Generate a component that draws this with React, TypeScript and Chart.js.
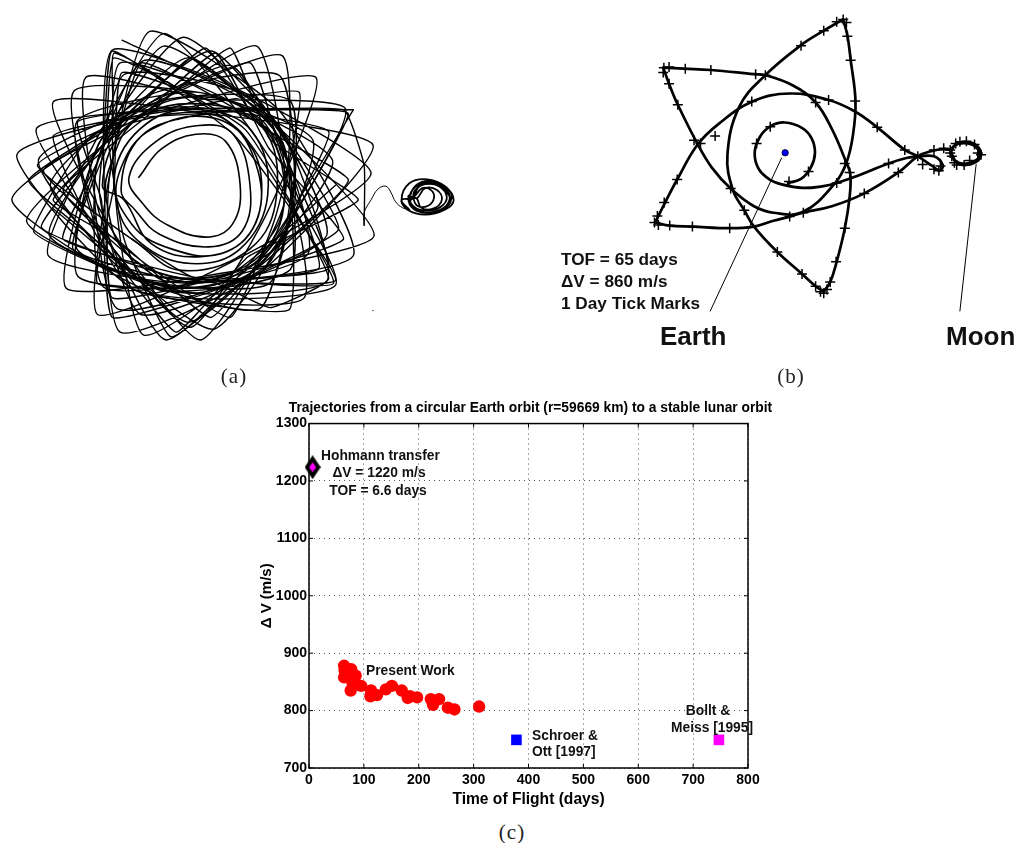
import React, { useEffect, useRef } from "react";
import { Chart, registerables } from "chart.js";

Chart.register(...registerables);

type P = [number, number];

// ---------- panel (a): values, axes 0..500 / 0..390
const aRings: P[] = [
  [137, 177], [160, 148], [195, 133], [225, 140], [240, 185], [232, 225], [205, 238], [165, 225], [142, 205],
  [127, 177], [155, 140], [198, 124], [232, 132], [250, 185], [242, 232], [208, 248], [158, 235], [133, 210],
  [119, 190], [135, 140], [175, 118], [225, 118], [258, 170], [255, 225], [220, 255], [170, 250], [130, 225],
  [112, 175], [145, 122], [200, 108], [252, 130], [268, 195], [240, 250], [190, 265], [140, 245], [115, 205],
  [122, 160], [150, 128], [205, 115], [246, 138], [262, 190], [245, 240], [200, 258], [150, 245], [122, 200],
  [100, 185], [125, 125], [190, 95], [255, 115], [285, 185], [262, 255], [190, 280], [125, 255], [104, 200],
  [108, 165], [135, 118], [200, 102], [262, 125], [277, 195], [250, 250], [180, 272], [130, 240],
];
const aStarEarly: P[] = [
  [120, 37], [254, 104], [376, 237], [208, 277], [63, 290], [96, 144], [182, 34], [283, 130], [328, 283],
  [168, 293], [23, 222], [133, 119], [257, 43], [285, 202], [200, 343], [111, 233], [50, 100], [200, 111],
  [375, 144], [258, 276], [118, 335], [102, 188], [110, 47], [239, 88], [373, 173], [232, 263], [95, 317],
  [108, 171], [148, 28], [279, 108], [355, 257], [190, 285], [45, 257], [94, 138], [163, 30], [258, 139],
  [337, 287], [157, 297], [8, 200], [142, 107], [283, 53], [280, 222], [165, 343], [97, 214], [83, 75],
  [203, 97], [347, 107], [268, 252], [142, 338], [113, 194], [118, 60], [266, 123], [305, 300], [133, 292],
  [13, 154], [166, 107], [317, 75], [266, 216], [190, 330], [107, 245], [33, 127], [184, 107], [355, 108],
];
const aStarMiddle: P[] = [
  [337, 185], [229, 276], [101, 289], [95, 160], [162, 43], [273, 125], [309, 255], [178, 290], [46, 236],
  [120, 121], [231, 63], [292, 176], [260, 311], [124, 275], [35, 159], [164, 98], [291, 99], [287, 231],
  [187, 325], [96, 227], [71, 89], [212, 93], [334, 160], [250, 275], [115, 311], [92, 177], [141, 58],
  [265, 107], [328, 236], [197, 295], [74, 250], [109, 131], [211, 48], [294, 156], [270, 285], [143, 281],
  [47, 185], [145, 94], [280, 73], [294, 214], [213, 332], [101, 245], [74, 120], [195, 90], [314, 139],
  [268, 266], [139, 317], [97, 193], [122, 72], [250, 95], [319, 208], [214, 287], [75, 278], [96, 143],
  [187, 55], [283, 141], [291, 271], [158, 292], [50, 209],
];
const aStarLate: P[] = [
  [355, 108], [254, 266], [110, 300], [107, 178], [140, 60], [283, 141], [290, 312], [127, 289], [50, 135],
  [174, 108], [300, 90], [276, 217], [230, 320], [129, 254], [40, 170], [139, 115], [215, 50], [269, 147],
  [345, 240], [196, 285], [70, 250], [120, 118], [250, 60], [281, 151], [320, 270], [161, 282], [60, 190],
  [146, 114], [230, 45], [270, 138], [360, 200], [248, 258], [175, 335], [106, 252], [25, 180], [126, 112],
  [205, 45], [260, 124], [350, 180], [242, 281], [110, 320], [99, 200], [75, 120], [187, 105], [330, 130],
  [278, 237], [210, 320], [118, 243], [50, 200], [118, 127], [190, 55], [277, 122], [340, 230], [224, 288],
  [95, 285], [112, 185], [120, 70], [269, 128], [330, 270], [180, 280], [38, 228], [110, 130], [112, 50],
  [240, 130], [335, 285], [200, 280], [60, 240], [100, 150], [110, 48], [235, 135], [337, 282], [190, 278],
  [34, 165], [125, 118], [280, 108], [350, 112], [270, 255], [170, 340], [122, 240], [105, 130], [112, 55],
  [245, 128], [330, 280], [270, 310], [215, 285], [110, 272], [30, 232], [88, 135], [170, 112], [345, 108],
  [366, 165], [366, 226],
];
const aExit: P[] = [
  [366, 226], [366, 213], [373, 200], [380, 189], [388, 186], [393, 192], [398, 202], [405, 208], [412, 210],
];
const aMoonLoops: P[] = [
  [412, 210], [404, 200], [412, 183], [430, 179], [448, 186], [457, 200], [448, 210], [428, 215], [410, 210],
  [404, 200], [415, 198], [422, 186], [436, 183], [450, 190], [452, 202], [440, 212], [422, 212], [413, 205],
  [415, 198], [420, 198], [428, 188], [440, 190], [445, 200], [436, 209], [424, 208], [419, 198], [412, 200],
  [420, 184], [440, 182], [455, 195], [447, 208], [428, 213], [414, 207], [411, 196], [416, 197], [425, 188],
  [434, 190], [437, 198], [431, 206], [420, 206], [416, 197], [418, 190], [428, 184], [442, 186], [450, 197],
  [444, 207], [430, 211], [418, 208], [412, 198], [418, 187], [432, 181], [446, 188], [454, 202], [440, 213],
];
const aSpeck: P[] = [[375, 313]];

// ---------- panel (b): values, axes 0..1431 / 0..1170
const bInnerOrbit: P[] = [
  [745, 548], [785, 535], [815, 500], [828, 455], [818, 410], [790, 378], [735, 360], [690, 372], [658, 405],
  [642, 455], [655, 505], [690, 538], [725, 552], [790, 563], [850, 558], [895, 548], [960, 525], [1055, 487],
  [1110, 470], [1145, 465],
];
const bLowerArc: P[] = [
  [335, 670], [380, 680], [450, 683], [565, 688], [640, 683], [700, 665], [750, 652], [790, 640], [880, 620],
  [980, 580], [1085, 515], [1145, 465], [1190, 448], [1225, 443], [1250, 445],
];
const bMiddleArc: P[] = [
  [335, 670], [365, 610], [403, 537], [465, 430], [530, 365], [635, 295], [750, 270], [870, 290], [950, 325],
  [1020, 375], [1105, 445], [1145, 465], [1190, 495], [1212, 510], [1222, 492], [1195, 465], [1145, 465],
];
const bStarOne: P[] = [
  [915, 40], [928, 90], [938, 165], [953, 295], [945, 400], [925, 485], [890, 548], [790, 638], [700, 640],
  [640, 620], [568, 565], [510, 500], [465, 425], [405, 305], [378, 240], [360, 190],
];
const bStarTwo: P[] = [
  [360, 190], [425, 193], [507, 197], [640, 210], [675, 213], [760, 245], [830, 298], [880, 380], [925, 485],
  [937, 520], [935, 590], [920, 688], [895, 792], [875, 855], [855, 885],
];
const bStarThree: P[] = [
  [855, 885], [830, 868], [788, 830], [712, 762], [640, 683], [610, 632], [575, 570], [558, 460], [595, 310],
  [675, 213], [785, 120], [855, 75], [915, 40],
];
const bMoonOrbit: P[] = [
  [1250, 445], [1262, 428], [1290, 420], [1325, 430], [1340, 460], [1325, 482], [1290, 492], [1265, 485], [1248, 455],
  [1258, 432], [1290, 424], [1322, 434], [1336, 460], [1320, 480], [1288, 488], [1262, 480], [1250, 458],
];
const bEarthLeader: P[] = [[725, 470], [505, 945]];
const bMoonLeader: P[] = [[1325, 490], [1275, 945]];
const bEarth: P[] = [[736, 454]];
const bDayTicks: P[] = [
  [915, 40], [895, 47], [925, 50], [855, 75], [928, 92], [785, 122], [938, 167], [675, 213], [645, 210], [507, 197],
  [428, 193], [378, 188], [362, 190], [360, 205], [378, 240], [405, 305], [633, 295], [830, 298], [870, 290], [952, 293],
  [690, 373], [1020, 375], [520, 402], [455, 415], [475, 425], [648, 425], [1105, 445], [920, 487], [935, 515], [808, 512],
  [403, 537], [748, 543], [895, 548], [1055, 487], [1145, 465], [1085, 515], [980, 580], [568, 565], [363, 608], [342, 650],
  [333, 670], [345, 678], [380, 680], [450, 683], [565, 688], [610, 632], [750, 652], [792, 640], [920, 688], [712, 762],
  [893, 792], [788, 830], [875, 855], [830, 868], [845, 885], [855, 890], [865, 878], [1160, 490], [1195, 505], [1215, 495],
  [1210, 510], [1195, 445], [1225, 440], [1245, 445], [1245, 455], [1262, 425], [1275, 420], [1295, 418], [1320, 428],
  [1340, 460], [1330, 455], [1250, 465], [1258, 485], [1265, 492], [1288, 492], [1305, 478],
];

// ---------- panel (c)
const xTickStep = 100;
const yTickStep = 100;
const presentWork: P[] = [
  [64, 878], [64, 858], [77, 872], [85, 861], [74, 856], [80, 846], [76, 835], [95, 843], [65, 870], [69, 864], [83, 850],
  [113, 835], [112, 825], [124, 827], [140, 837], [151, 843], [169, 835], [180, 822], [184, 825], [197, 823],
  [222, 820], [237, 820], [226, 810], [253, 805], [265, 802], [310, 807],
];
const schroerOtt: P[] = [[378, 749]];
const bolltMeiss: P[] = [[747, 749]];
const hohmann: P[] = [[6.6, 1224]];

const toXY = (pts: P[]) => pts.map(([x, y]) => ({ x, y }));

const strand = (pts: P[], width: number, tension = 0.4) => ({
  data: toXY(pts),
  showLine: true,
  borderColor: "#000",
  backgroundColor: "#000",
  borderWidth: width,
  pointRadius: 0,
  tension,
  borderJoinStyle: "round",
  borderCapStyle: "round",
  clip: false,
});

function useChart(build: () => any) {
  const ref = useRef<HTMLCanvasElement>(null);
  useEffect(() => {
    const chart = new Chart(ref.current as HTMLCanvasElement, build());
    return () => chart.destroy();
  }, []);
  return ref;
}

const hiddenAxes = (xMax: number, yMax: number) => ({
  x: { type: "linear", display: false, min: 0, max: xMax },
  y: { type: "linear", display: false, min: 0, max: yMax, reverse: true },
});

const baseOptions = {
  responsive: false,
  animation: false,
  events: [],
  layout: { padding: 0 },
  plugins: { legend: { display: false }, tooltip: { enabled: false }, title: { display: false } },
};

function PanelA() {
  const ref = useChart(() => ({
    type: "scatter",
    data: {
      datasets: [
        strand(aRings, 1.6),
        strand(aStarEarly, 1.4, 0.18),
        strand(aStarMiddle, 1.4, 0.18),
        strand(aStarLate, 1.4, 0.12),
        strand(aExit, 1),
        strand(aMoonLoops, 1.8),
        { data: toXY(aSpeck), pointRadius: 0.7, backgroundColor: "#000", borderWidth: 0 },
      ],
    },
    options: { ...baseOptions, scales: hiddenAxes(500, 390) },
  }));
  return <canvas ref={ref} width={500} height={390} style={{ position: "absolute", left: 0, top: 0 }} />;
}

function PanelB() {
  const ref = useChart(() => ({
    type: "scatter",
    data: {
      datasets: [
        {
          data: toXY(bEarth),
          pointStyle: "circle",
          pointRadius: 3.2,
          backgroundColor: "#0000ff",
          borderColor: "#000",
          borderWidth: 0.8,
        },
        {
          data: toXY(bDayTicks),
          pointStyle: "cross",
          pointRadius: 5,
          borderColor: "#000",
          borderWidth: 1.5,
          clip: false,
        },
        strand(bInnerOrbit, 2.7),
        strand(bLowerArc, 2.7),
        strand(bMiddleArc, 2.7),
        strand(bStarOne, 2.7),
        strand(bStarTwo, 2.7),
        strand(bStarThree, 2.7),
        strand(bMoonOrbit, 2.7),
        { ...strand(bEarthLeader, 1), tension: 0 },
        { ...strand(bMoonLeader, 1), tension: 0 },
      ],
    },
    options: { ...baseOptions, scales: hiddenAxes(1431, 1170) },
  }));
  return <canvas ref={ref} width={477} height={390} style={{ position: "absolute", left: 540, top: 0 }} />;
}

const framePlugin = {
  id: "matlabFrame",
  beforeDatasetsDraw(chart: any) {
    const { ctx, chartArea: a, scales } = chart;
    ctx.save();
    ctx.strokeStyle = "#000";
    ctx.lineWidth = 1;
    ctx.beginPath();
    scales.x.ticks.forEach((_: any, i: number) => {
      const px = scales.x.getPixelForTick(i);
      ctx.moveTo(px, a.bottom);
      ctx.lineTo(px, a.bottom - 4);
      ctx.moveTo(px, a.top);
      ctx.lineTo(px, a.top + 4);
    });
    scales.y.ticks.forEach((_: any, i: number) => {
      const py = scales.y.getPixelForTick(i);
      ctx.moveTo(a.left, py);
      ctx.lineTo(a.left + 4, py);
      ctx.moveTo(a.right, py);
      ctx.lineTo(a.right - 4, py);
    });
    ctx.stroke();
    ctx.lineWidth = 1.5;
    ctx.strokeRect(a.left, a.top, a.right - a.left, a.bottom - a.top);
    ctx.restore();
  },
};

const BOLD = "'Liberation Sans', Arial, sans-serif";

function diamondMarker() {
  const c = document.createElement("canvas");
  c.width = 16;
  c.height = 24;
  const g = c.getContext("2d") as CanvasRenderingContext2D;
  g.fillStyle = "#000";
  g.beginPath();
  g.moveTo(8, 0);
  g.lineTo(16, 12);
  g.lineTo(8, 24);
  g.lineTo(0, 12);
  g.closePath();
  g.fill();
  g.fillStyle = "#ff00ff";
  g.beginPath();
  g.moveTo(8, 7);
  g.lineTo(11.5, 12);
  g.lineTo(8, 17);
  g.lineTo(4.5, 12);
  g.closePath();
  g.fill();
  return c;
}

function PanelC() {
  const ref = useChart(() => ({
    type: "scatter",
    plugins: [framePlugin],
    data: {
      datasets: [
        { data: toXY(hohmann), pointStyle: diamondMarker(), pointRadius: 10, borderWidth: 0, clip: false },
        { data: toXY(presentWork), pointStyle: "circle", pointRadius: 6.2, backgroundColor: "#ff0000", borderWidth: 0, clip: false },
        { data: toXY(schroerOtt), pointStyle: "rect", pointRadius: 7.5, backgroundColor: "#0000ff", borderWidth: 0, clip: false },
        { data: toXY(bolltMeiss), pointStyle: "rect", pointRadius: 7.5, backgroundColor: "#ff00ff", borderWidth: 0, clip: false },
      ],
    },
    options: {
      ...baseOptions,
      plugins: {
        ...baseOptions.plugins,
        title: {
          display: true,
          text: "Trajectories from a circular Earth orbit (r=59669 km) to a stable lunar orbit",
          color: "#000",
          font: { family: BOLD, size: 13.8, weight: "bold" },
          padding: { top: 5, bottom: 7 },
        },
      },
      scales: {
        x: {
          type: "linear",
          min: 0,
          max: 800,
          afterFit: (s: any) => { s.height = 47; },
          ticks: { stepSize: xTickStep, color: "#000", padding: 4, maxRotation: 0, callback: (v: number) => String(v), font: { family: BOLD, size: 14, weight: "bold" } },
          grid: { color: "#555", lineWidth: 1, drawTicks: false },
          border: { display: false, dash: [1, 4] },
          title: { display: true, text: "Time of Flight (days)", color: "#000", padding: { top: 2, bottom: 6 }, font: { family: BOLD, size: 15.6, weight: "bold" } },
        },
        y: {
          type: "linear",
          min: 700,
          max: 1300,
          afterFit: (s: any) => { s.width = 54; },
          ticks: { stepSize: yTickStep, color: "#000", padding: 2, callback: (v: number) => String(v), font: { family: BOLD, size: 14, weight: "bold" } },
          grid: { color: "#555", lineWidth: 1, drawTicks: false },
          border: { display: false, dash: [1, 4] },
          title: { display: true, text: "Δ V (m/s)", color: "#000", padding: { top: 3, bottom: 2 }, font: { family: BOLD, size: 15, weight: "bold" } },
        },
        yRight: {
          type: "linear",
          display: true,
          position: "right",
          min: 700,
          max: 1300,
          afterFit: (s: any) => { s.width = 58; },
          ticks: { display: false },
          grid: { display: false, drawTicks: false },
          border: { display: false },
        },
      },
    },
  }));
  return <canvas ref={ref} width={551} height={420} style={{ position: "absolute", left: 255, top: 395 }} />;
}

type Note = { text: string; left?: number; center?: number; y: number; size: number };
const notes: Note[] = [
  { text: "Hohmann transfer", left: 321, y: 455, size: 13.8 },
  { text: "ΔV = 1220 m/s", center: 379, y: 472, size: 13.8 },
  { text: "TOF = 6.6 days", center: 378, y: 490, size: 13.8 },
  { text: "Present Work", left: 366, y: 670, size: 13.8 },
  { text: "Schroer &", left: 532, y: 735, size: 13.8 },
  { text: "Ott [1997]", left: 532, y: 751, size: 13.8 },
  { text: "Bollt &", center: 708, y: 710, size: 13.8 },
  { text: "Meiss [1995]", center: 712, y: 727, size: 13.8 },
  { text: "TOF = 65 days", left: 561, y: 259, size: 17.2 },
  { text: "ΔV = 860 m/s", left: 561, y: 281, size: 17.2 },
  { text: "1 Day Tick Marks", left: 561, y: 303, size: 17.2 },
  { text: "Earth", left: 660, y: 336, size: 26 },
  { text: "Moon", left: 946, y: 336, size: 26 },
];
const captions = [
  { text: "(a)", center: 234, y: 376 },
  { text: "(b)", center: 791, y: 376 },
  { text: "(c)", center: 512, y: 832 },
];

export default function App() {
  return (
    <div style={{ position: "absolute", left: 0, top: 0, width: 1017, height: 843, overflow: "hidden", background: "#fff" }}>
      <PanelA />
      <PanelB />
      <PanelC />
      {notes.map((n) => (
        <div
          key={n.text}
          style={{
            position: "absolute",
            left: n.left ?? n.center,
            top: n.y,
            transform: n.left !== undefined ? "translateY(-50%)" : "translate(-50%,-50%)",
            font: `bold ${n.size}px ${BOLD}`,
            color: "#111",
            whiteSpace: "nowrap",
          }}
        >
          {n.text}
        </div>
      ))}
      {captions.map((c) => (
        <div
          key={c.text}
          style={{
            position: "absolute",
            left: c.center,
            top: c.y,
            transform: "translate(-50%,-50%)",
            font: "21px 'Liberation Serif', serif",
            letterSpacing: 1,
            color: "#222",
          }}
        >
          {c.text}
        </div>
      ))}
    </div>
  );
}
